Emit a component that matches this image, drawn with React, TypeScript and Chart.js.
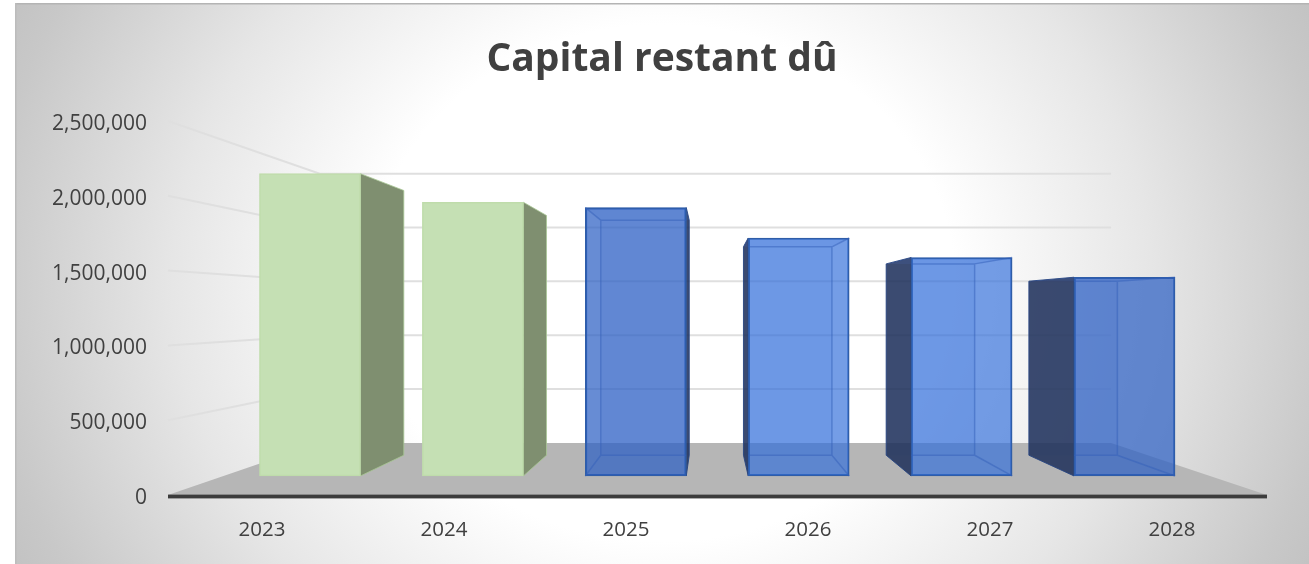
import React, { useEffect, useRef } from "react";
import { Chart, registerables } from "chart.js";

Chart.register(...registerables);

const YEARS = ["2023", "2024", "2025", "2026", "2027", "2028"];
const CAPITAL = [2265000, 2051000, 2011000, 1783000, 1637000, 1489000];
const INDEX = [0, 1, 2, 3, 4, 5];
const SOLID_BARS = [true, true, false, false, false, false];
const BAR_FILLS = ["#c5e0b4", "#c5e0b4", "rgba(44,96,196,0.72)", "rgba(50,110,218,0.68)", "rgba(50,110,218,0.68)", "rgba(44,96,196,0.72)"];
const AXIS_MAX = 2500000;
const AXIS_STEP = 500000;

// 3D projection: vanishing point and depth ratios
const VP = { x: 710, y: 309 };
const WALL_DEPTH = 0.72;
const FRONT_DEPTH = 0.892;
const BAR_BACK_RATIO = 0.876;
const VP_VALUE = 1180000;
const FLOOR_LIFT = (1 - FRONT_DEPTH) * VP_VALUE;

const projected = CAPITAL.map((v, i) => ({
  x: INDEX[i],
  y: [FLOOR_LIFT, FLOOR_LIFT + v * FRONT_DEPTH],
}));

const toward = (x: number, y: number, k: number): [number, number] => [
  VP.x + (x - VP.x) * k,
  VP.y + (y - VP.y) * k,
];

function poly(ctx: CanvasRenderingContext2D, pts: [number, number][], fill?: string, stroke?: string, lw = 1) {
  ctx.beginPath();
  pts.forEach((p, i) => (i ? ctx.lineTo(p[0], p[1]) : ctx.moveTo(p[0], p[1])));
  ctx.closePath();
  if (fill) {
    ctx.fillStyle = fill;
    ctx.fill();
  }
  if (stroke) {
    ctx.strokeStyle = stroke;
    ctx.lineWidth = lw;
    ctx.stroke();
  }
}

function barBox(el: any) {
  const l = el.x - el.width / 2;
  const r = el.x + el.width / 2;
  const t = el.y;
  const b = el.base;
  const [bl, bt] = toward(l, t, BAR_BACK_RATIO);
  const [br, bb] = toward(r, b, BAR_BACK_RATIO);
  return { l, r, t, b, bl, br, bt, bb };
}

const scene3d = {
  id: "scene3d",
  beforeDraw(chart: any) {
    const { ctx, width, height } = chart;
    ctx.save();
    ctx.fillStyle = "#ffffff";
    ctx.fillRect(0, 0, width, height);
    ctx.beginPath();
    ctx.rect(15, 3, width - 15, height - 3);
    ctx.clip();
    const cx = 662;
    const cy = 283;
    ctx.translate(cx, cy);
    ctx.scale(770, 680);
    const g = ctx.createRadialGradient(0, 0, 0, 0, 0, 1);
    g.addColorStop(0, "#ffffff");
    g.addColorStop(0.38, "#ffffff");
    g.addColorStop(0.636, "#e6e6e6");
    g.addColorStop(0.88, "#c8c8c8");
    g.addColorStop(1, "#bdbdbd");
    ctx.fillStyle = g;
    ctx.fillRect(-2, -2, 4, 4);
    ctx.restore();
    ctx.save();
    ctx.fillStyle = "#b4b4b4";
    ctx.fillRect(15, 3, width - 15, 1.5);
    ctx.fillStyle = "#bcbcbc";
    ctx.fillRect(15, 3, 1.5, height - 3);
    ctx.restore();
  },
  beforeDatasetsDraw(chart: any) {
    const { ctx, chartArea, scales } = chart;
    const yS = scales.y;
    const left = chartArea.left - 3;
    const right = chartArea.right + 4;
    const bottom = yS.getPixelForValue(0);
    ctx.save();
    const [wl] = toward(left, bottom, WALL_DEPTH);
    const [wr, wb] = toward(right, bottom, WALL_DEPTH);
    poly(ctx, [[left, bottom], [right, bottom], [wr, wb], [wl, wb]], "#b6b6b6");
    ctx.lineCap = "butt";
    ctx.strokeStyle = "#dfdfdf";
    ctx.lineWidth = 2;
    yS.ticks.forEach((t: any) => {
      if (t.value === 0) return;
      const y = yS.getPixelForValue(t.value);
      const [bx, by] = toward(left, y, WALL_DEPTH);
      const [ex] = toward(right, y, WALL_DEPTH);
      ctx.beginPath();
      ctx.moveTo(left, y);
      ctx.lineTo(bx, by);
      ctx.lineTo(ex, by);
      ctx.stroke();
    });
    // axis line
    ctx.fillStyle = "rgba(90,90,90,0.5)";
    ctx.fillRect(left, bottom - 1, right - left, 5);
    ctx.fillStyle = "#3c3c3c";
    ctx.fillRect(left, bottom, right - left, 3);

    // bar depth faces behind the fronts
    const meta = chart.getDatasetMeta(0);
    meta.data.forEach((el: any, i: number) => {
      const { l, r, t, b, bl, br, bt, bb } = barBox(el);
      if (SOLID_BARS[i]) {
        poly(ctx, [[r, t], [br, bt], [br, bb], [r, b]], "#7f8f70", "#a9c896", 0.8);
      } else {
        poly(ctx, [[bl, bt], [br, bt], [br, bb], [bl, bb]], "rgba(70,115,210,0.12)");
        if (bl < l) poly(ctx, [[l, t], [bl, bt], [bl, bb], [l, b]], "rgba(30,48,90,0.86)", "rgba(40,70,130,0.9)", 1);
        if (br > r) poly(ctx, [[r, t], [br, bt], [br, bb], [r, b]], "rgba(30,48,90,0.86)", "rgba(40,70,130,0.9)", 1);
        poly(ctx, [[l, t], [r, t], [br, bt], [bl, bt]], "rgba(60,100,200,0.14)");
      }
    });
    ctx.restore();
  },
  afterDatasetsDraw(chart: any) {
    const { ctx } = chart;
    ctx.save();
    const meta = chart.getDatasetMeta(0);
    meta.data.forEach((el: any, i: number) => {
      if (SOLID_BARS[i]) return;
      const { l, r, t, b, bl, br, bt, bb } = barBox(el);
      ctx.strokeStyle = "rgba(52,95,186,0.5)";
      ctx.lineWidth = 1.5;
      ctx.beginPath();
      ctx.moveTo(Math.max(bl, l), bt);
      ctx.lineTo(Math.min(br, r), bt);
      if (br < r) {
        ctx.moveTo(br, bt);
        ctx.lineTo(br, bb);
        ctx.moveTo(br, bb);
        ctx.lineTo(r, b);
        ctx.moveTo(br, bt);
        ctx.lineTo(r, t);
      }
      if (bl > l) {
        ctx.moveTo(bl, bt);
        ctx.lineTo(bl, bb);
        ctx.moveTo(bl, bb);
        ctx.lineTo(l, b);
        ctx.moveTo(bl, bt);
        ctx.lineTo(l, t);
      }
      ctx.moveTo(Math.max(bl, l), bb);
      ctx.lineTo(Math.min(br, r), bb);
      ctx.stroke();
    });
    ctx.restore();
  },
};

export default function App() {
  const ref = useRef<HTMLCanvasElement>(null);
  useEffect(() => {
    const chart = new Chart(ref.current!, {
      type: "bar",
      plugins: [scene3d],
      data: {
        labels: YEARS,
        datasets: [
          {
            label: "Capital restant dû",
            data: projected as any,
            xAxisID: "xFront",
            yAxisID: "y",
            barThickness: 101,
            backgroundColor: BAR_FILLS,
            borderColor: SOLID_BARS.map((s) => (s ? "#bfdcab" : "#2f5da8")),
            borderWidth: 1.5,
            borderSkipped: false,
          },
        ],
      },
      options: {
        responsive: false,
        animation: false,
        layout: { padding: { left: 15, top: 3, right: 0, bottom: 0 } },
        plugins: {
          legend: { display: false },
          tooltip: { enabled: false },
          title: {
            display: true,
            text: "Capital restant dû",
            color: "#404040",
            font: { family: "'Open Sans'", size: 39, weight: "bold", lineHeight: 1.2 },
            padding: { top: 33.6, bottom: 37.6 },
          },
        },
        scales: {
          x: {
            type: "category",
            labels: YEARS,
            grid: { display: false, drawTicks: false },
            border: { display: false },
            ticks: { color: "#404040", padding: 23, font: { family: "'Open Sans'", size: 20.5 }, maxRotation: 0 },
            afterFit(s: any) {
              s.height = 69;
            },
          },
          xFront: {
            type: "linear",
            display: false,
            offset: false,
            min: -0.853,
            max: 5.85,
          },
          y: {
            type: "linear",
            min: 0,
            max: AXIS_MAX,
            grid: { display: false, drawTicks: false },
            border: { display: false },
            ticks: {
              stepSize: AXIS_STEP,
              color: "#404040",
              padding: 24,
              labelOffset: 3,
              font: { family: "'Open Sans'", size: 21 },
              callback: (v: any) => Number(v).toLocaleString("en-US"),
            },
            afterFit(s: any) {
              s.width = 156;
            },
          },
          ySpacer: {
            type: "linear",
            position: "right",
            grid: { display: false, drawTicks: false },
            border: { display: false },
            ticks: { display: false },
            afterFit(s: any) {
              s.width = 46;
            },
          },
        },
      },
    } as any);
    return () => chart.destroy();
  }, []);
  return (
    <div style={{ position: "absolute", left: 0, top: 0, width: 1309, height: 564 }}>
      <canvas ref={ref} width={1309} height={564} style={{ display: "block", filter: "blur(0.7px)" }} />
    </div>
  );
}
